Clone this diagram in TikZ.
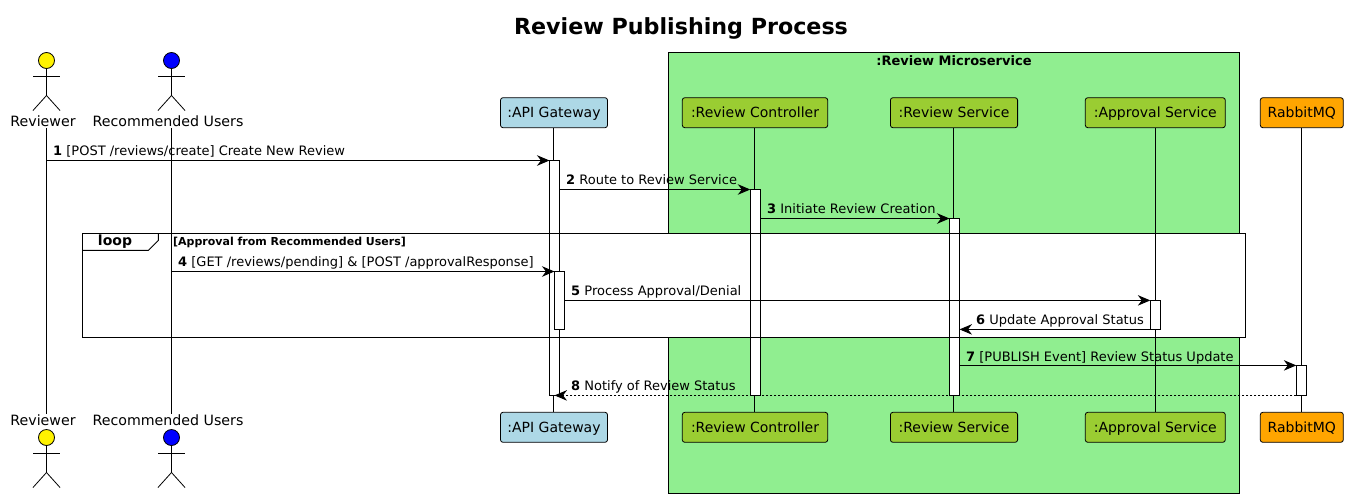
\documentclass[tikz,border=0pt]{standalone}
\usepackage{fontspec}
\setmainfont{DejaVu Sans}
\usetikzlibrary{arrows.meta}

\definecolor{svcgreen}{HTML}{90EE90}
\definecolor{svcbox}{HTML}{9ACD32}
\definecolor{gwblue}{HTML}{ADD8E6}
\definecolor{mqorange}{HTML}{FFA500}

\tikzset{
  part/.style={draw, rounded corners=2.5pt, line width=0.8pt, inner sep=0pt, outer sep=0pt, minimum height=30pt, text height=13pt, text depth=3pt, font=\fontsize{14}{16}\selectfont},
  actorhead/.style={draw, circle, line width=0.8pt, inner sep=0pt, outer sep=0pt, minimum size=16pt},
  actorname/.style={inner sep=0pt, font=\fontsize{14.2}{16}\selectfont},
  bar/.style={draw, fill=white, line width=1pt, inner sep=0pt, outer sep=0pt, minimum width=10pt},
  loopbox/.style={line width=1pt, inner sep=0pt, outer sep=0pt, minimum width=1163pt, minimum height=104pt},
  msg/.style={line width=1pt, -{Stealth[length=12.5pt,width=10.5pt,inset=4pt]}},
  msgtext/.style={inner sep=0pt, anchor=base west, font=\fontsize{13}{15}\selectfont}
}

% stick figure: x, y of the head, colour, name
\newcommand{\stickman}[4]{
  \node[actorhead, fill=#3] (#4) at (#1,#2) {};
  \draw[line width=0.8pt] (#4.south) -- ++(0,27) coordinate (#4hip) -- ++(-13.5,15);
  \draw[line width=0.8pt] (#4hip) -- ++(13.5,15);
  \draw[line width=0.8pt] ([yshift=-7.5pt]#4.south) ++(-13.5,0) -- ++(27,0);
}

\begin{document}
\begin{tikzpicture}[x=1pt,y=-1pt]

      \useasboundingbox (0,0) rectangle (1348,498);

      % Title
      \node[inner sep=0pt, font=\fontsize{22.2}{26}\selectfont\bfseries] (title) at (681,28) {Review Publishing Process};

      % Microservice box
      \node[draw, fill=svcgreen, line width=1pt, inner sep=0pt, outer sep=0pt, minimum width=571pt, minimum height=441pt] (msbox) at (954,273) {};
      \node[inner sep=0pt, font=\fontsize{13}{15}\selectfont\bfseries] (msname) at (954,60.5) {:Review Microservice};

      % Loop background
      \node[loopbox, fill=white] (loopback) at (663.8,285.4) {};

      % Actors
      \stickman{46.5}{60.5}{yellow}{revtop}
      \stickman{171.5}{60.5}{blue}{usrtop}
      \stickman{46.5}{437.5}{yellow}{revbot}
      \stickman{171.5}{437.5}{blue}{usrbot}
      \node[actorname] (revname) at (43,121) {Reviewer};
      \node[actorname] (usrname) at (168,121) {Recommended Users};
      \node[actorname] (revnameb) at (43,420) {Reviewer};
      \node[actorname] (usrnameb) at (168,420) {Recommended Users};

      % Participants
      \node[part, fill=gwblue, minimum width=107pt] (gwtop) at (554,112.7) {:API Gateway};
      \node[part, fill=svcbox, minimum width=145.4pt] (ctltop) at (755,112.7) {:Review Controller};
      \node[part, fill=svcbox, minimum width=127.2pt] (srvtop) at (954,112.7) {:Review Service};
      \node[part, fill=svcbox, minimum width=140pt] (apptop) at (1155.3,112.7) {:Approval Service};
      \node[part, fill=mqorange, minimum width=83pt] (mqtop) at (1301.8,112.7) {RabbitMQ};
      \node[part, fill=gwblue, minimum width=107pt] (gwbot) at (554,427.3) {:API Gateway};
      \node[part, fill=svcbox, minimum width=145.4pt] (ctlbot) at (755,427.3) {:Review Controller};
      \node[part, fill=svcbox, minimum width=127.2pt] (srvbot) at (954,427.3) {:Review Service};
      \node[part, fill=svcbox, minimum width=140pt] (appbot) at (1155.3,427.3) {:Approval Service};
      \node[part, fill=mqorange, minimum width=83pt] (mqbot) at (1301.8,427.3) {RabbitMQ};

      % Lifelines
      \coordinate (revline) at (46.5,128);
      \coordinate (revlineb) at (46.5,414);
      \coordinate (usrline) at (171.5,128);
      \coordinate (usrlineb) at (171.5,414);
      \coordinate (gwline) at (553.5,128);
      \coordinate (gwlineb) at (553.5,412);
      \coordinate (ctlline) at (754.5,128);
      \coordinate (ctllineb) at (754.5,412);
      \coordinate (srvline) at (953,128);
      \coordinate (srvlineb) at (953,412);
      \coordinate (appline) at (1155.3,128);
      \coordinate (applineb) at (1155.3,412);
      \coordinate (mqline) at (1301.5,128);
      \coordinate (mqlineb) at (1301.5,412);
      \foreach \who in {rev,usr,gw,ctl,srv,app,mq}
        \draw[line width=1pt] (\who line) -- (\who lineb);

      % Activations
      \node[bar, minimum height=235pt] (gwact) at (554.5,278) {};
      \node[bar, minimum height=58pt] (gwloop) at (559.5,300.5) {};
      \node[bar, minimum height=206pt] (ctlact) at (755.3,292.5) {};
      \node[bar, minimum height=177pt] (srvact) at (954.5,307) {};
      \node[bar, minimum height=29pt] (appact) at (1155.3,314.9) {};
      \node[bar, minimum height=30pt] (mqact) at (1301.3,380.4) {};

      % Loop frame
      \node[loopbox, draw] (loopframe) at (663.8,285.4) {};
      \draw[line width=1pt] (loopframe.north west) ++(0,17) -- ++(66,0) -- ++(10,-10) -- ++(0,-7);
      \node[inner sep=0pt, font=\fontsize{14}{16}\selectfont\bfseries] (looptag) at (115,241.5) {loop};
      \node[inner sep=0pt, anchor=west, font=\fontsize{11}{13}\selectfont\bfseries] (loopguard) at (173,242) {[Approval from Recommended Users]};

      % Messages
      \draw[msg] (revline |- gwact.north west) -- (gwact.north west);
      \draw[msg] (ctlact.north west -| gwact.east) -- (ctlact.north west);
      \draw[msg] (srvact.north west -| ctlact.east) -- (srvact.north west);
      \draw[msg] (usrline |- gwloop.north west) -- (gwloop.north west);
      \draw[msg] (appact.north west -| gwloop.east) -- (appact.north west);
      \draw[msg] (appact.south west) -- (appact.south west -| srvact.east);
      \draw[msg] (mqact.north west -| srvact.east) -- (mqact.north west);
      \draw[msg, dash pattern=on 2pt off 2pt] (mqact.south west) -- (mqact.south west -| gwloop.west);

      % Message labels
      \node[msgtext] (lab1) at (53,155) {\textbf{1} [POST /reviews/create] Create New Review};
      \node[msgtext] (lab2) at (566,184) {\textbf{2} Route to Review Service};
      \node[msgtext] (lab3) at (767,213) {\textbf{3} Initiate Review Creation};
      \node[msgtext] (lab4) at (178,266) {\textbf{4} [GET /reviews/pending] \& [POST /approvalResponse]};
      \node[msgtext] (lab5) at (571,295) {\textbf{5} Process Approval/Denial};
      \node[msgtext] (lab6) at (976,324) {\textbf{6} Update Approval Status};
      \node[msgtext] (lab7) at (966,361) {\textbf{7} [PUBLISH Event] Review Status Update};
      \node[msgtext] (lab8) at (571,390) {\textbf{8} Notify of Review Status};

\end{tikzpicture}
\end{document}
